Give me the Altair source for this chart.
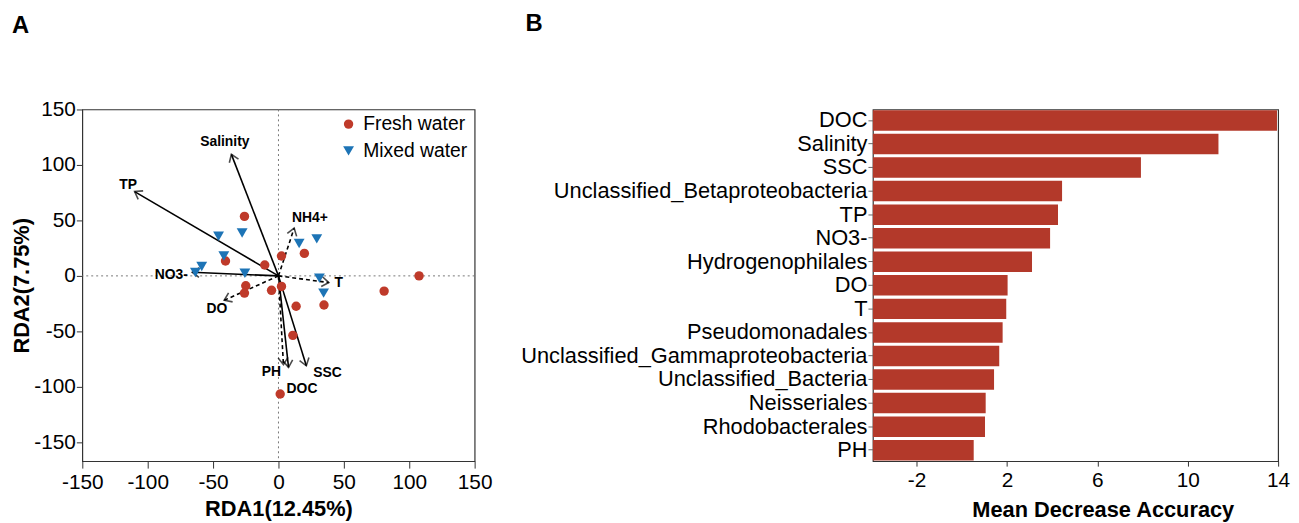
import altair as alt
import pandas as pd
import numpy as np

# ---------------- Panel A data (RDA) ----------------
fresh_x = [-26, -40.5, -10.5, 2.3, 19.8, 107.5, -25, -26, -5.3, 2.3, 13.5, 34.8, 80.8, 11, 1.3]
fresh_y = [53.6, 13.4, 9.8, 17.9, 20.3, 0, -8.9, -15.5, -13, -9.5, -27.4, -26.2, -13.7, -53.6, -106.5]
mixed_x = [-45.8, -27.8, -41.8, -63.5, -58.7, -25.7, 15.8, 29.3, 31.3, 34.5]
mixed_y = [35.7, 38.7, 17.9, 3, 8.4, 2.4, 29.2, 33.4, -2, -15.5]

env_names = ["Salinity", "TP", "NH4+", "NO3-", "T", "DO", "PH", "DOC", "SSC"]
env_x = [-36, -110, 12, -66, 38.5, -41.5, 3.8, 7.7, 21.3]
env_y = [109.5, 76, 43, 3.3, -6, -22, -80, -82.4, -81]
env_dashed = [False, False, True, False, True, True, True, False, False]
label_x = [-41, -115, 24, -82, 46, -47, -5.5, 18, 37.5]
label_y = [121, 82, 52, 0.5, -6.5, -30, -87, -102, -88]

# ---------------- Panel B data (Random forest) ----------------
bar_names = ["DOC", "Salinity", "SSC", "Unclassified_Betaproteobacteria", "TP", "NO3-",
             "Hydrogenophilales", "DO", "T", "Pseudomonadales",
             "Unclassified_Gammaproteobacteria", "Unclassified_Bacteria",
             "Neisseriales", "Rhodobacterales", "PH"]
bar_vals = [13.95, 11.36, 7.93, 4.44, 4.26, 3.91, 3.11, 2.03, 1.97, 1.81, 1.66, 1.43, 1.06, 1.03, 0.53]

FONT = "Liberation Sans"
RED = "#BF3A2A"
BLUE = "#1D74B6"
BAR = "#B3392A"

WA, HA = 396, 355
XDOM = [-150, 150]
YDOM = [-167, 150]
sx = WA / (XDOM[1] - XDOM[0])
sy = HA / (YDOM[1] - YDOM[0])
B_MIN = -3.93

pts = pd.DataFrame({
    "x": fresh_x + mixed_x,
    "y": fresh_y + mixed_y,
    "group": ["Fresh water"] * len(fresh_x) + ["Mixed water"] * len(mixed_x),
})

env = pd.DataFrame({
    "name": env_names, "x": env_x, "y": env_y, "dashed": env_dashed,
    "lx": label_x, "ly": label_y,
})
env["x0"] = 0.0
env["y0"] = 0.0
env["angle"] = (np.degrees(np.arctan2(env["x"] * sx, env["y"] * sy)) + 360) % 360

xs = alt.Scale(domain=XDOM, nice=False, zero=False)
ys = alt.Scale(domain=YDOM, nice=False, zero=False)

TICKS = [-150, -100, -50, 0, 50, 100, 150]
xax = alt.Axis(values=TICKS, title="RDA1(12.45%)", labelExpr="toString(datum.value)",
               labelFlush=False, labelOverlap=False,
               labelFontSize=21, titleFontSize=22, titleFontWeight="bold",
               tickSize=7, domain=False, grid=False, labelColor="black",
               titleColor="black", tickColor="#333", labelPadding=4, titlePadding=6)
yax = alt.Axis(values=TICKS, title="RDA2(7.75%)", labelExpr="toString(datum.value)",
               labelFlush=False, labelOverlap=False,
               labelFontSize=21, titleFontSize=22, titleFontWeight="bold",
               tickSize=6, domain=False, grid=False, labelColor="black",
               titleColor="black", tickColor="#333", labelPadding=1, titlePadding=0)

zero_v = alt.Chart(pd.DataFrame({"v": [0]})).mark_rule(
    color="#777", strokeDash=[2, 3], strokeWidth=1
).encode(x=alt.X("v:Q", scale=xs, axis=xax))
zero_h = alt.Chart(pd.DataFrame({"v": [0]})).mark_rule(
    color="#777", strokeDash=[2, 3], strokeWidth=1
).encode(y=alt.Y("v:Q", scale=ys, axis=yax))

base_env = alt.Chart(env)
solid = base_env.transform_filter("!datum.dashed").mark_rule(
    color="black", strokeWidth=1.6
).encode(x=alt.X("x0:Q", scale=xs), y=alt.Y("y0:Q", scale=ys), x2="x:Q", y2="y:Q")
dashed = base_env.transform_filter("datum.dashed").mark_rule(
    color="black", strokeWidth=1.6, strokeDash=[4, 3]
).encode(x=alt.X("x0:Q", scale=xs), y=alt.Y("y0:Q", scale=ys), x2="x:Q", y2="y:Q")
heads = base_env.mark_point(
    shape="M-0.7,1L0,0L0.7,1", filled=False, color="black", strokeWidth=1.6, size=200
).encode(x=alt.X("x:Q", scale=xs), y=alt.Y("y:Q", scale=ys),
         angle=alt.Angle("angle:Q", scale=None))
labels = base_env.mark_text(
    font=FONT, fontSize=14, fontWeight="bold", color="black"
).encode(x=alt.X("lx:Q", scale=xs), y=alt.Y("ly:Q", scale=ys), text="name:N")

GROUPS = ["Fresh water", "Mixed water"]
leg = alt.Legend(title=None, orient="none", legendX=259, legendY=5,
                 labelFontSize=19.5, symbolSize=190, labelColor="black",
                 rowPadding=6, labelOffset=5, symbolStrokeWidth=0)
points = alt.Chart(pts).mark_point(filled=True, opacity=1).encode(
    x=alt.X("x:Q", scale=xs),
    y=alt.Y("y:Q", scale=ys),
    color=alt.Color("group:N", scale=alt.Scale(domain=GROUPS, range=[RED, BLUE]), legend=leg),
    shape=alt.Shape("group:N", scale=alt.Scale(domain=GROUPS, range=["circle", "triangle-down"]),
                    legend=leg),
    size=alt.Size("group:N", scale=alt.Scale(domain=GROUPS, range=[90, 120]), legend=None),
)

panelA = alt.layer(zero_v, zero_h, solid, dashed, heads, points, labels).properties(
    width=WA, height=HA,
    title=alt.TitleParams("A", anchor="start", frame="bounds", fontSize=24, fontWeight="bold",
                          font=FONT, offset=61, dx=1, color="black"),
)

# ---------------- Panel B ----------------
bars_df = pd.DataFrame({"name": bar_names, "value": bar_vals})
panelB = alt.Chart(bars_df).mark_bar(color=BAR).encode(
    y=alt.Y("name:N", sort=bar_names,
            scale=alt.Scale(paddingInner=0.13, paddingOuter=0.03),
            axis=alt.Axis(title=None, labelFontSize=22, labelColor="black", labelLimit=500,
                          tickSize=5, tickColor="#666", domain=False, labelPadding=1)),
    x=alt.X("value:Q", scale=alt.Scale(domain=[B_MIN, 14], nice=False, zero=False),
            axis=alt.Axis(values=[-2, 2, 6, 10, 14], title="Mean Decrease Accuracy",
                          labelExpr="toString(datum.value)", labelFlush=False,
                          labelFontSize=21, titleFontSize=22, titleFontWeight="bold",
                          labelColor="black", titleColor="black", tickSize=5,
                          tickColor="#333", domain=False, grid=False, labelPadding=4,
                          titlePadding=9, titleX=232)),
    x2=alt.datum(B_MIN),
).properties(
    width=409, height=355,
    title=alt.TitleParams("B", anchor="start", frame="bounds", fontSize=24, fontWeight="bold",
                          font=FONT, offset=74, dx=5, color="black"),
)

chart = alt.hconcat(panelA, panelB, spacing=26).properties(
    padding={"left": 2, "top": 0, "right": 0, "bottom": 0}
).configure(font=FONT).configure_view(stroke="#333", strokeWidth=1.2)

chart.save("out.html", embed_options={"renderer": "svg", "actions": False})
